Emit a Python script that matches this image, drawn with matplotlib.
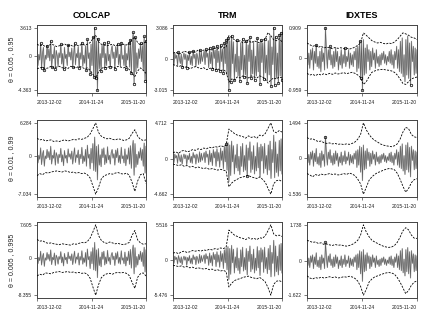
import numpy as np
import matplotlib
matplotlib.use('Agg')
import matplotlib.pyplot as plt

plt.rcParams['font.family'] = ['Liberation Sans', 'DejaVu Sans']

# ---------------- data ----------------
series_names = ["COLCAP", "TRM", "IDXTES"]
row_labels = ["θ = 0.05 , 0.95", "θ = 0.01 , 0.99", "θ = 0.005 , 0.995"]
date_labels = ["2013-12-02", "2014-11-24", "2015-11-20"]

colcap_ret = [
    0.8, -1.2, 0.2, -0.5, 1.6, -1.5, 0.3, 1.1, -1.8, 0.1,
    -0.4, 1.3, -0.2, 0.9, -0.6, 1.9, -1.4, 0.2, -0.3, 1.2,
    -1.6, 0.7, 0.1, -1.3, 0.4, -0.2, 1.5, -1.0, 0.3, -1.7,
    1.1, -0.3, 0.2, -1.2, 1.4, -0.1, 0.5, -0.5, 1.0, -1.4,
    0.2, 1.6, -1.1, 0.3, -0.2, 1.2, -1.5, 0.4, -0.4, 1.7,
    -1.3, 0.1, -0.9, 1.3, -1.8, 2.1, -0.3, 0.4, -2.3, 1.5,
    -1.2, 2.4, -2.6, 3.613, -2.8, 1.9, -4.363, 2.2, -1.6, 0.3,
    -1.9, 1.4, -0.2, 1.6, -1.5, 0.3, -1.2, 1.8, -0.6, 0.2,
    -1.4, 0.7, 1.3, -0.3, 0.5, -1.6, 1.2, -0.2, 1.5, -1.1,
    0.2, -1.3, 1.7, -0.4, 0.1, -1.2, 1.4, -1.7, 0.3, -0.5,
    1.6, -1.4, 2.0, -2.2, 1.3, 3.0, -3.5, 2.4, -2.0, 0.4,
    -1.5, 0.9, -0.3, 1.6, -0.7, 1.3, -1.8, 2.5, -3.1, 1.9]

trm_ret = [
    0.3, -0.5, 0.6, 0.1, 0.4, -0.6, 0.7, 0.1, -0.4, 0.5,
    -0.7, 0.2, 0.6, 0.0, 0.5, -0.8, 0.4, -0.1, 0.7, -0.5,
    0.3, -0.6, 0.8, 0.1, 0.5, -0.7, 0.6, 0.2, -0.5, 0.9,
    -0.4, 0.7, -0.2, 0.3, 0.8, -0.5, 1.0, 0.2, 0.6, -0.8,
    1.1, -0.4, 0.7, -0.9, 1.2, 0.1, 0.9, -1.0, 1.3, -0.3,
    0.8, -1.1, 1.4, -0.2, 1.0, -1.3, 1.6, -0.4, 1.9, -1.5,
    2.1, -3.015, 1.8, -2.2, 2.3, -0.4, 1.7, -2.0, 0.5, -1.2,
    1.9, -1.6, 0.3, -2.1, 1.6, -1.0, 2.0, -1.7, 0.4, -1.5,
    1.8, -2.3, 1.4, -0.2, 2.2, -1.8, 0.9, -1.4, 1.7, -2.0,
    0.3, -1.6, 2.1, -1.2, 1.5, -2.4, 1.9, -0.3, 1.6, -1.9,
    2.0, -1.3, 0.4, -2.1, 1.8, -1.5, 2.3, -2.6, 1.2, -0.5,
    3.086, -2.5, 2.2, -1.8, 0.6, -2.3, 2.4, -1.6, 2.6, -2.0]

idxtes_ret = [
    0.35, -0.2, 0.15, -0.3, 0.25, -0.05, 0.3, -0.35, 0.2, -0.15,
    0.4, -0.25, 0.05, -0.3, 0.2, -0.4, 0.3, -0.1, 0.15, -0.35,
    0.909, 0.2, -0.3, 0.25, -0.05, 0.35, -0.2, 0.1, -0.3, 0.2,
    -0.25, 0.3, -0.1, 0.2, -0.35, 0.05, -0.2, 0.25, -0.3, 0.1,
    -0.15, 0.3, -0.25, 0.05, -0.1, 0.25, -0.3, 0.15, -0.2, 0.1,
    -0.25, 0.2, -0.05, 0.3, -0.4, 0.35, -0.3, 0.5, -0.6, 0.45,
    -0.959, 0.55, -0.5, 0.3, -0.45, 0.4, -0.1, 0.25, -0.35, 0.2,
    -0.25, 0.3, -0.05, 0.15, -0.3, 0.25, -0.15, 0.05, -0.25, 0.1,
    -0.2, 0.15, -0.05, 0.2, -0.15, 0.1, -0.2, 0.05, -0.1, 0.2,
    -0.15, 0.25, -0.2, 0.1, -0.3, 0.2, -0.05, 0.35, -0.3, 0.25,
    -0.4, 0.5, -0.45, 0.6, -0.55, 0.1, -0.7, 0.55, -0.5, 0.65,
    -0.6, 0.45, -0.8, 0.5, -0.1, 0.35, -0.5, 0.3, -0.45, 0.25]

# VaR bands (upper, lower) per row (theta) and column (series)
colcap_up_1 = [1.5, 1.3, 1.4, 1.2, 1.3, 1.5, 1.4, 1.2, 1.3, 1.4,
               1.5, 1.3, 1.4, 1.2, 1.4, 1.3, 1.5, 1.4, 1.5, 1.7,
               2.2, 2.6, 1.8, 1.5, 1.4, 1.3, 1.4, 1.5, 1.3, 1.4,
               1.3, 1.5, 1.4, 1.6, 2.1, 2.4, 1.7, 1.4, 1.6, 1.8]
colcap_lo_1 = [-1.6, -1.5, -1.4, -1.6, -1.5, -1.3, -1.5, -1.4, -1.3, -1.5,
               -1.4, -1.6, -1.3, -1.4, -1.5, -1.3, -1.4, -1.6, -1.5, -1.8,
               -2.3, -2.8, -2.0, -1.6, -1.4, -1.5, -1.3, -1.4, -1.5, -1.3,
               -1.4, -1.5, -1.3, -1.7, -2.2, -2.6, -1.9, -1.5, -1.8, -2.2]
colcap_up_2 = [3.4, 3.1, 3.2, 2.9, 3.0, 3.1, 2.8, 2.9, 2.8, 3.0,
               3.1, 2.9, 3.0, 3.2, 3.1, 3.3, 3.2, 3.4, 3.6, 4.2,
               5.2, 6.284, 4.5, 3.8, 3.5, 3.3, 3.4, 3.2, 3.1, 3.3,
               3.2, 3.0, 3.1, 3.4, 4.3, 5.0, 3.8, 3.2, 3.0, 3.1]
colcap_lo_2 = [-3.6, -3.2, -3.4, -3.0, -3.1, -2.9, -2.8, -2.7, -2.8, -2.9,
               -2.7, -2.8, -3.0, -2.9, -3.1, -3.0, -3.2, -3.1, -3.4, -4.0,
               -5.5, -7.034, -5.8, -4.2, -3.6, -3.4, -3.2, -3.3, -3.1, -3.0,
               -3.2, -3.3, -3.1, -3.5, -4.8, -6.5, -4.6, -3.4, -3.2, -5.0]
colcap_up_3 = [4.3, 3.9, 4.0, 3.6, 3.4, 3.5, 3.3, 3.2, 3.1, 3.3,
               3.2, 3.1, 3.0, 3.3, 3.2, 3.4, 3.6, 3.5, 3.8, 4.6,
               6.0, 7.605, 5.2, 4.1, 3.6, 3.4, 3.7, 3.5, 3.3, 3.4,
               3.2, 3.1, 3.3, 3.6, 5.2, 6.3, 4.2, 3.5, 3.2, 3.3]
colcap_lo_3 = [-4.0, -3.6, -3.8, -3.3, -3.4, -3.5, -3.2, -3.1, -3.0, -3.2,
               -3.1, -3.0, -3.2, -3.1, -3.3, -3.2, -3.4, -3.3, -3.6, -4.5,
               -6.5, -8.355, -6.0, -4.4, -3.8, -3.5, -3.4, -3.6, -3.3, -3.2,
               -3.3, -3.2, -3.4, -3.9, -5.4, -6.8, -4.3, -3.5, -3.3, -4.0]

trm_up_1 = [0.6, 0.7, 0.5, 0.6, 0.8, 0.7, 0.6, 0.8, 0.7, 0.9,
            0.8, 0.9, 0.8, 1.0, 0.9, 1.1, 1.0, 1.2, 1.1, 1.2,
            2.3, 2.1, 1.9, 1.7, 1.8, 1.6, 1.7, 1.9, 1.6, 1.8,
            1.7, 1.6, 1.8, 2.0, 2.6, 2.3, 1.9, 1.8, 2.0, 1.7]
trm_lo_1 = [-0.5, -0.6, -0.7, -0.6, -0.8, -0.7, -0.9, -0.8, -0.7, -0.8,
            -0.9, -0.8, -1.0, -0.9, -0.8, -1.0, -0.9, -1.1, -1.0, -1.2,
            -2.2, -1.9, -2.0, -1.7, -1.8, -1.6, -1.7, -1.8, -1.6, -1.7,
            -1.8, -1.6, -1.7, -1.9, -2.3, -2.0, -1.8, -1.9, -1.7, -1.8]
trm_up_2 = [0.8, 0.9, 0.7, 1.0, 1.1, 0.9, 1.0, 1.2, 1.1, 1.3,
            1.2, 1.4, 1.3, 1.5, 1.4, 1.6, 1.5, 1.7, 1.6, 1.8,
            3.9, 3.6, 3.3, 3.1, 3.0, 2.9, 2.7, 3.0, 2.8, 2.9,
            2.7, 3.1, 3.0, 3.3, 4.0, 4.712, 3.6, 3.4, 3.7, 3.5]
trm_lo_2 = [-0.7, -0.8, -0.9, -0.8, -1.0, -0.9, -1.1, -1.0, -1.2, -1.1,
            -1.2, -1.3, -1.2, -1.4, -1.3, -1.4, -1.5, -1.4, -1.5, -1.6,
            -3.7, -3.2, -2.9, -2.7, -2.5, -2.4, -2.3, -2.2, -2.4, -2.5,
            -2.6, -2.4, -2.7, -3.1, -3.9, -4.662, -3.3, -2.9, -2.8, -3.0]
trm_up_3 = [1.1, 1.2, 1.0, 1.3, 1.4, 1.2, 1.3, 1.5, 1.4, 1.5,
            1.4, 1.6, 1.5, 1.7, 1.6, 1.8, 1.7, 1.9, 1.8, 2.0,
            4.7, 4.3, 3.9, 3.7, 3.5, 3.4, 3.2, 3.5, 3.3, 3.4,
            3.2, 3.5, 3.4, 3.8, 4.6, 5.516, 4.1, 3.8, 3.9, 3.7]
trm_lo_3 = [-0.8, -0.9, -1.0, -0.9, -1.1, -1.0, -1.2, -1.1, -1.3, -1.2,
            -1.3, -1.4, -1.3, -1.5, -1.4, -1.6, -1.5, -1.7, -1.6, -1.8,
            -4.2, -3.6, -3.2, -3.0, -2.9, -2.7, -2.6, -2.5, -2.7, -2.8,
            -2.9, -2.7, -3.0, -3.4, -4.3, -5.476, -3.8, -3.3, -3.2, -3.4]

idxtes_up_1 = [0.45, 0.40, 0.35, 0.38, 0.32, 0.36, 0.30, 0.33, 0.30, 0.28,
               0.32, 0.29, 0.31, 0.28, 0.30, 0.27, 0.29, 0.33, 0.38, 0.45,
               0.75, 0.68, 0.60, 0.52, 0.48, 0.45, 0.47, 0.44, 0.42, 0.45,
               0.43, 0.48, 0.55, 0.65, 0.75, 0.72, 0.68, 0.62, 0.60, 0.55]
idxtes_lo_1 = [-0.45, -0.50, -0.48, -0.52, -0.47, -0.50, -0.46, -0.49, -0.45, -0.48,
               -0.44, -0.47, -0.45, -0.43, -0.46, -0.44, -0.42, -0.45, -0.50, -0.58,
               -0.78, -0.70, -0.55, -0.42, -0.38, -0.35, -0.34, -0.33, -0.35, -0.36,
               -0.38, -0.42, -0.50, -0.62, -0.75, -0.78, -0.70, -0.62, -0.58, -0.56]
idxtes_up_2 = [0.87, 0.80, 0.82, 0.75, 0.70, 0.72, 0.65, 0.62, 0.64, 0.60,
               0.62, 0.58, 0.60, 0.57, 0.60, 0.58, 0.62, 0.68, 0.80, 1.00,
               1.494, 1.20, 1.00, 0.85, 0.75, 0.68, 0.60, 0.55, 0.52, 0.50,
               0.48, 0.52, 0.60, 0.80, 1.10, 1.30, 1.25, 1.00, 0.90, 0.87]
idxtes_lo_2 = [-0.66, -0.72, -0.80, -0.70, -0.75, -0.68, -0.72, -0.70, -0.66, -0.70,
               -0.68, -0.72, -0.70, -0.66, -0.70, -0.64, -0.68, -0.75, -0.90, -1.10,
               -1.536, -1.25, -0.95, -0.80, -0.70, -0.62, -0.58, -0.52, -0.48, -0.45,
               -0.46, -0.50, -0.65, -0.90, -1.20, -1.45, -1.30, -1.05, -0.92, -0.88]
idxtes_up_3 = [1.00, 0.95, 0.90, 0.92, 0.85, 0.88, 0.80, 0.82, 0.78, 0.75,
               0.80, 0.76, 0.78, 0.74, 0.72, 0.75, 0.80, 0.88, 1.00, 1.25,
               1.738, 1.40, 1.17, 1.00, 0.92, 0.85, 0.78, 0.72, 0.68, 0.66,
               0.68, 0.75, 0.90, 1.15, 1.45, 1.60, 1.50, 1.25, 1.10, 1.09]
idxtes_lo_3 = [-0.70, -0.80, -0.85, -0.78, -0.82, -0.76, -0.80, -0.78, -0.74, -0.78,
               -0.75, -0.80, -0.78, -0.74, -0.76, -0.72, -0.75, -0.82, -0.95, -1.20,
               -1.622, -1.35, -1.00, -0.85, -0.75, -0.70, -0.65, -0.60, -0.56, -0.54,
               -0.56, -0.62, -0.78, -1.00, -1.27, -1.55, -1.40, -1.15, -1.00, -0.94]

returns = [colcap_ret, trm_ret, idxtes_ret]
bands = [
    [(colcap_up_1, colcap_lo_1), (trm_up_1, trm_lo_1), (idxtes_up_1, idxtes_lo_1)],
    [(colcap_up_2, colcap_lo_2), (trm_up_2, trm_lo_2), (idxtes_up_2, idxtes_lo_2)],
    [(colcap_up_3, colcap_lo_3), (trm_up_3, trm_lo_3), (idxtes_up_3, idxtes_lo_3)],
]

# ---------------- layout (pixels) ----------------
W, H = 434, 329
col_px = [(37, 146), (173, 282), (307, 417)]
row_px = [(25, 93), (120, 197), (222, 298)]

fig = plt.figure(figsize=(W / 100, H / 100), dpi=100)
fig.patch.set_facecolor('white')

box_col = '#444444'
for i, (y0, y1) in enumerate(row_px):
    for j, (x0, x1) in enumerate(col_px):
        ax = fig.add_axes([x0 / W, 1 - y1 / H, (x1 - x0) / W, (y1 - y0) / H])
        r = np.asarray(returns[j], dtype=float)
        n = len(r)
        x = np.arange(n)
        up = np.asarray(bands[i][j][0], dtype=float)
        lo = np.asarray(bands[i][j][1], dtype=float)
        xb = np.linspace(0, n - 1, len(up))

        ax.plot(x, r, color='#a8a8a8', lw=0.8, zorder=1)
        ax.plot(x, r, color='#5a5a5a', lw=0.35, zorder=2)
        ax.plot(xb, up, color='black', lw=0.6, ls=(0, (2.5, 1.5)), zorder=3)
        ax.plot(xb, lo, color='black', lw=0.6, ls=(0, (2.5, 1.5)), zorder=3)

        upi = np.interp(x, xb, up)
        loi = np.interp(x, xb, lo)
        mask = (r > upi) | (r < loi)
        ax.plot(x[mask], r[mask], 'o', ms=1.8, mfc='none', mec='black',
                mew=0.5, zorder=4)

        allv = np.concatenate([r, up, lo])
        ymin, ymax = allv.min(), allv.max()
        span = ymax - ymin
        ax.set_ylim(ymin - 0.04 * span, ymax + 0.04 * span)
        ax.set_xlim(0, n - 1)
        ax.set_yticks([ymin, 0, ymax])
        ax.set_yticklabels([f"{ymin:.3f}", "0", f"{ymax:.3f}"])
        ax.set_xticks([0, (n - 1) / 2, n - 1])
        ax.set_xticklabels(date_labels)
        tl = ax.get_xticklabels()
        tl[0].set_ha('left')
        tl[2].set_ha('right')
        ax.tick_params(axis='both', labelsize=3.6, length=2.2, width=0.5,
                       color=box_col, labelcolor='#222222')
        ax.tick_params(axis='y', pad=1.5)
        ax.tick_params(axis='x', pad=3.0)
        for s in ax.spines.values():
            s.set_color(box_col)
            s.set_linewidth(0.7)

        if i == 0:
            ax.set_title(series_names[j], fontsize=6.5, fontweight='bold', pad=5)
        if j == 0:
            ax.set_ylabel(row_labels[i], fontsize=5.0, labelpad=2, color='#222222')

fig.savefig('out.png', dpi=100)
